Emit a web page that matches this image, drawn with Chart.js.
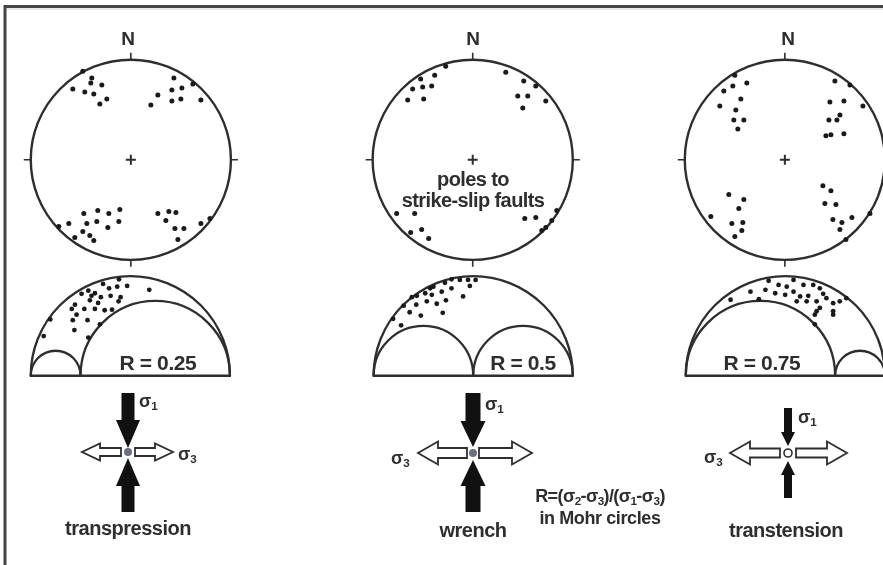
<!DOCTYPE html>
<html>
<head>
<meta charset="utf-8">
<script src="https://cdn.jsdelivr.net/npm/chart.js@4"></script>
<style>
  html,body{margin:0;padding:0;background:#fff;}
  #wrap{position:relative;width:883px;height:565px;overflow:hidden;font-family:"Liberation Sans",Arial,sans-serif;font-weight:bold;color:#2e2e2e;}
  #c{position:absolute;left:0;top:0;}
  .t{position:absolute;white-space:nowrap;transform:translate(-50%,-50%);line-height:1;}
  .l{position:absolute;white-space:nowrap;transform:translate(0,-50%);line-height:1;}
  sub{font-size:0.65em;vertical-align:-0.25em;line-height:0;}
</style>
</head>
<body>
<div id="wrap">
<canvas id="c" width="883" height="565"></canvas>
<div class="t" style="left:128px;top:38px;font-size:19px;">N</div>
<div class="t" style="left:473px;top:38px;font-size:19px;">N</div>
<div class="t" style="left:788px;top:38px;font-size:19px;">N</div>
<div class="t" style="left:473px;top:179px;font-size:20px;letter-spacing:-0.6px;">poles to</div>
<div class="t" style="left:473px;top:200px;font-size:20px;letter-spacing:-0.6px;">strike-slip faults</div>
<div class="t" style="left:158px;top:362px;font-size:21px;letter-spacing:-0.4px;">R = 0.25</div>
<div class="t" style="left:523px;top:362px;font-size:21px;letter-spacing:-0.4px;">R = 0.5</div>
<div class="t" style="left:762px;top:362px;font-size:21px;letter-spacing:-0.4px;">R = 0.75</div>
<div class="l" style="left:139px;top:401px;font-size:18px;">σ<sub>1</sub></div>
<div class="l" style="left:178px;top:454px;font-size:18px;">σ<sub>3</sub></div>
<div class="l" style="left:485px;top:404px;font-size:18px;">σ<sub>1</sub></div>
<div class="l" style="left:391px;top:458px;font-size:18px;">σ<sub>3</sub></div>
<div class="l" style="left:798px;top:417px;font-size:18px;">σ<sub>1</sub></div>
<div class="l" style="left:704px;top:457px;font-size:18px;">σ<sub>3</sub></div>
<div class="t" style="left:128px;top:528px;font-size:20px;letter-spacing:-0.5px;">transpression</div>
<div class="t" style="left:473px;top:530px;font-size:20px;letter-spacing:-0.5px;">wrench</div>
<div class="t" style="left:786px;top:530px;font-size:20px;letter-spacing:-0.5px;">transtension</div>
<div class="t" style="left:600px;top:496px;font-size:18px;letter-spacing:-0.6px;">R=(σ<sub>2</sub>-σ<sub>3</sub>)/(σ<sub>1</sub>-σ<sub>3</sub>)</div>
<div class="t" style="left:600px;top:518px;font-size:18px;letter-spacing:-0.4px;">in Mohr circles</div>
</div>
<script>
// ---------- DATA ----------
const regimes = ["transpression", "wrench", "transtension"];
const stressRatios = [0.25, 0.5, 0.75];

// Poles in stereonet unit-circle coordinates (x east, y north)
const polesTranspression = [
  [-0.48,0.89],[-0.39,0.82],[-0.40,0.77],[-0.29,0.75],[-0.58,0.71],[-0.46,0.68],[-0.37,0.66],[-0.24,0.61],[-0.31,0.56],
  [0.43,0.82],[0.62,0.76],[0.51,0.72],[0.41,0.70],[0.27,0.65],[0.70,0.60],[0.50,0.61],[0.41,0.59],[0.20,0.55],
  [-0.11,-0.50],[-0.33,-0.51],[-0.22,-0.54],[-0.47,-0.54],[-0.12,-0.62],[-0.34,-0.62],[-0.44,-0.64],[-0.62,-0.64],
  [-0.23,-0.68],[-0.72,-0.67],[-0.48,-0.72],[-0.41,-0.76],[-0.56,-0.78],[-0.37,-0.81],
  [0.27,-0.54],[0.38,-0.52],[0.45,-0.53],[0.35,-0.61],[0.44,-0.69],[0.53,-0.69],[0.70,-0.64],[0.79,-0.59],[0.47,-0.80]
];
const polesWrench = [
  [-0.27,0.94],[-0.38,0.85],[-0.52,0.81],[-0.60,0.71],[-0.50,0.73],[-0.41,0.74],[-0.65,0.60],[-0.49,0.61],
  [0.33,0.88],[0.51,0.79],[0.63,0.74],[0.45,0.64],[0.55,0.64],[0.73,0.59],[0.50,0.52],
  [-0.76,-0.54],[-0.58,-0.54],[-0.51,-0.70],[-0.62,-0.73],[-0.44,-0.79],
  [0.52,-0.59],[0.63,-0.58],[0.84,-0.51],[0.79,-0.61],[0.73,-0.68],[0.69,-0.71]
];
const polesTranstension = [
  [-0.50,0.85],[-0.61,0.69],[-0.52,0.74],[-0.38,0.77],[-0.44,0.61],[-0.65,0.54],[-0.49,0.50],[-0.51,0.40],[-0.41,0.40],[-0.47,0.31],
  [0.50,0.79],[0.65,0.75],[0.78,0.54],[0.45,0.58],[0.59,0.59],[0.55,0.45],[0.44,0.40],[0.52,0.40],[0.41,0.24],[0.46,0.25],[0.59,0.26],
  [-0.56,-0.35],[-0.41,-0.40],[-0.46,-0.49],[-0.74,-0.57],[-0.53,-0.64],[-0.42,-0.63],[-0.43,-0.71],[-0.50,-0.77],
  [0.38,-0.26],[0.46,-0.31],[0.40,-0.44],[0.51,-0.45],[0.48,-0.60],[0.57,-0.63],[0.67,-0.58],[0.55,-0.70],[0.85,-0.54],[0.61,-0.80]
];

// Mohr-space points: [normalized normal stress (sigma3=0, sigma1=1), normalized shear stress]
const mohrTranspression = [
  [0.443,0.486],[0.484,0.453],[0.434,0.449],[0.393,0.441],[0.363,0.463],[0.289,0.429],[0.255,0.413],[0.322,0.416],
  [0.352,0.396],[0.401,0.403],[0.451,0.396],[0.441,0.375],[0.297,0.380],[0.338,0.367],[0.222,0.358],[0.206,0.337],
  [0.269,0.337],[0.322,0.337],[0.371,0.330],[0.408,0.333],[0.230,0.308],[0.285,0.280],[0.347,0.259],[0.211,0.280],
  [0.219,0.230],[0.289,0.192],[0.098,0.284],[0.065,0.200],[0.595,0.433],[0.305,0.403]
];
const mohrWrench = [
  [0.391,0.486],[0.433,0.483],[0.474,0.483],[0.512,0.483],[0.358,0.469],[0.483,0.453],[0.391,0.441],[0.300,0.449],
  [0.284,0.441],[0.342,0.424],[0.259,0.416],[0.217,0.403],[0.192,0.396],[0.292,0.408],[0.449,0.400],[0.151,0.353],
  [0.214,0.358],[0.267,0.375],[0.317,0.363],[0.363,0.380],[0.181,0.320],[0.237,0.303],[0.347,0.317],[0.098,0.287],[0.138,0.254]
];
const mohrTranstension = [
  [0.416,0.479],[0.541,0.483],[0.591,0.458],[0.466,0.458],[0.507,0.449],[0.400,0.433],[0.449,0.416],[0.325,0.424],
  [0.499,0.408],[0.541,0.424],[0.574,0.400],[0.615,0.403],[0.640,0.458],[0.673,0.441],[0.690,0.413],[0.706,0.391],
  [0.740,0.366],[0.773,0.375],[0.806,0.391],[0.607,0.375],[0.657,0.375],[0.557,0.375],[0.673,0.342],[0.740,0.325],
  [0.740,0.308],[0.657,0.325],[0.648,0.308],[0.367,0.386],[0.225,0.383],[0.648,0.259]
];

// ---------- LAYOUT ----------
const W = 883, H = 565;
const netLayout = [{cx:128,cy:158,r:101},{cx:473,cy:158,r:101},{cx:788,cy:158,r:101}];
const mohrLayout = [{x0:27,base:377,len:201},{x0:373,base:377,len:201},{x0:688,base:377,len:201}];
const arrowLayout = [
  {cx:128,cy:452, v:{tt:393,tp:448,bp:458,bt:512,sw:13,hw:24,hl:28}, h:{l:82,r:173,gap:7,sh:8,hh:17,hl:18}, center:"dot"},
  {cx:473,cy:453, v:{tt:393,tp:447,bp:460,bt:512,sw:15,hw:25,hl:26}, h:{l:418,r:532,gap:6,sh:10,hh:23,hl:20}, center:"dot"},
  {cx:788,cy:453, v:{tt:408,tp:446,bp:461,bt:498,sw:8,hw:14,hl:14}, h:{l:730,r:847,gap:8,sh:9,hh:23,hl:20}, center:"ring"}
];
const INK = "#2e2e2e";

const polesSets = [polesTranspression, polesWrench, polesTranstension];
const mohrSets = [mohrTranspression, mohrWrench, mohrTranstension];

const scales = {};
netLayout.forEach((n,i)=>{
  scales["nx"+i] = {type:"linear", display:false, min:-n.cx/n.r, max:(W-n.cx)/n.r};
  scales["ny"+i] = {type:"linear", display:false, min:-(H-n.cy)/n.r, max:n.cy/n.r};
});
mohrLayout.forEach((m,i)=>{
  scales["mx"+i] = {type:"linear", display:false, min:-m.x0/m.len, max:(W-m.x0)/m.len};
  scales["my"+i] = {type:"linear", display:false, min:-(H-m.base)/m.len, max:m.base/m.len};
});

const datasets = [];
polesSets.forEach((set,i)=>{
  datasets.push({label:"poles "+regimes[i], data:set.map(p=>({x:p[0],y:p[1]})), xAxisID:"nx"+i, yAxisID:"ny"+i,
    pointRadius:2.5, pointBackgroundColor:"#1a1a1a", pointBorderWidth:0});
});
mohrSets.forEach((set,i)=>{
  datasets.push({label:"mohr "+regimes[i], data:set.map(p=>({x:p[0],y:p[1]})), xAxisID:"mx"+i, yAxisID:"my"+i,
    pointRadius:2.4, pointBackgroundColor:"#1a1a1a", pointBorderWidth:0});
});

function blockArrow(ctx, x0,y0,x1,y1, sw,hw,hl, fill, stroke){
  const dx=x1-x0, dy=y1-y0, L=Math.hypot(dx,dy), ux=dx/L, uy=dy/L, px=-uy, py=ux;
  const pts=[[0,-sw/2],[L-hl,-sw/2],[L-hl,-hw/2],[L,0],[L-hl,hw/2],[L-hl,sw/2],[0,sw/2]];
  ctx.beginPath();
  pts.forEach((p,k)=>{const X=x0+ux*p[0]+px*p[1], Y=y0+uy*p[0]+py*p[1]; k?ctx.lineTo(X,Y):ctx.moveTo(X,Y);});
  ctx.closePath();
  ctx.fillStyle=fill; ctx.fill();
  if(stroke){ctx.strokeStyle=stroke; ctx.lineWidth=1.8; ctx.lineJoin="miter"; ctx.stroke();}
}

const figurePlugin = {
  id:"figure",
  beforeDatasetsDraw(chart){
    const ctx = chart.ctx;
    ctx.save();
    // frame
    ctx.strokeStyle="#444"; ctx.lineWidth=3;
    ctx.beginPath(); ctx.moveTo(5,H); ctx.lineTo(5,6.5); ctx.lineTo(W,6.5); ctx.stroke();
    ctx.strokeStyle="#ccc"; ctx.lineWidth=1;
    ctx.beginPath(); ctx.moveTo(7,9); ctx.lineTo(W,9); ctx.stroke();
    ctx.strokeStyle=INK;
    // stereonets
    netLayout.forEach((n,i)=>{
      const sx=chart.scales["nx"+i], sy=chart.scales["ny"+i];
      const cx=sx.getPixelForValue(0), cy=sy.getPixelForValue(0);
      const r=sx.getPixelForValue(1)-cx;
      ctx.lineWidth=2.4;
      ctx.beginPath(); ctx.arc(cx,cy,r,0,2*Math.PI); ctx.stroke();
      const t=7;
      ctx.lineWidth=1.6;
      ctx.beginPath();
      ctx.moveTo(cx-r-t,cy); ctx.lineTo(cx-r,cy);
      ctx.moveTo(cx+r,cy); ctx.lineTo(cx+r+t,cy);
      ctx.moveTo(cx,cy-r-t); ctx.lineTo(cx,cy-r);
      ctx.moveTo(cx,cy+r); ctx.lineTo(cx,cy+r+t);
      ctx.stroke();
      ctx.lineWidth=2;
      ctx.beginPath();
      ctx.moveTo(cx-5,cy); ctx.lineTo(cx+5,cy);
      ctx.moveTo(cx,cy-5); ctx.lineTo(cx,cy+5);
      ctx.stroke();
    });
    // Mohr diagrams
    mohrLayout.forEach((m,i)=>{
      const sx=chart.scales["mx"+i], sy=chart.scales["my"+i];
      const yb=sy.getPixelForValue(0);
      const semi=(a,b)=>{
        const xa=sx.getPixelForValue(a), xb=sx.getPixelForValue(b);
        ctx.beginPath(); ctx.arc((xa+xb)/2,yb,(xb-xa)/2,Math.PI,2*Math.PI); ctx.stroke();
      };
      ctx.lineWidth=2.3;
      semi(0,1);
      semi(0,stressRatios[i]);
      semi(stressRatios[i],1);
      ctx.lineWidth=2.5;
      ctx.beginPath(); ctx.moveTo(sx.getPixelForValue(0)-1,yb); ctx.lineTo(sx.getPixelForValue(1)+1,yb); ctx.stroke();
    });
    // stress arrows
    arrowLayout.forEach(a=>{
      const v=a.v, h=a.h;
      blockArrow(ctx,a.cx,v.tt,a.cx,v.tp,v.sw,v.hw,v.hl,"#111",null);
      blockArrow(ctx,a.cx,v.bt,a.cx,v.bp,v.sw,v.hw,v.hl,"#111",null);
      blockArrow(ctx,a.cx-h.gap,a.cy,h.l,a.cy,h.sh,h.hh,h.hl,"#fff",INK);
      blockArrow(ctx,a.cx+h.gap,a.cy,h.r,a.cy,h.sh,h.hh,h.hl,"#fff",INK);
      ctx.beginPath(); ctx.arc(a.cx,a.cy,4,0,2*Math.PI);
      if(a.center==="dot"){ctx.fillStyle="#6a7080"; ctx.fill();}
      else {ctx.fillStyle="#fff"; ctx.fill(); ctx.lineWidth=1.6; ctx.strokeStyle=INK; ctx.stroke();}
    });
    ctx.restore();
  }
};

new Chart(document.getElementById("c"), {
  type:"scatter",
  data:{datasets},
  options:{
    responsive:false, animation:false, devicePixelRatio:1,
    layout:{padding:0},
    scales,
    plugins:{legend:{display:false}, tooltip:{enabled:false}, title:{display:false}},
    events:[]
  },
  plugins:[figurePlugin]
});
</script>
</body>
</html>
